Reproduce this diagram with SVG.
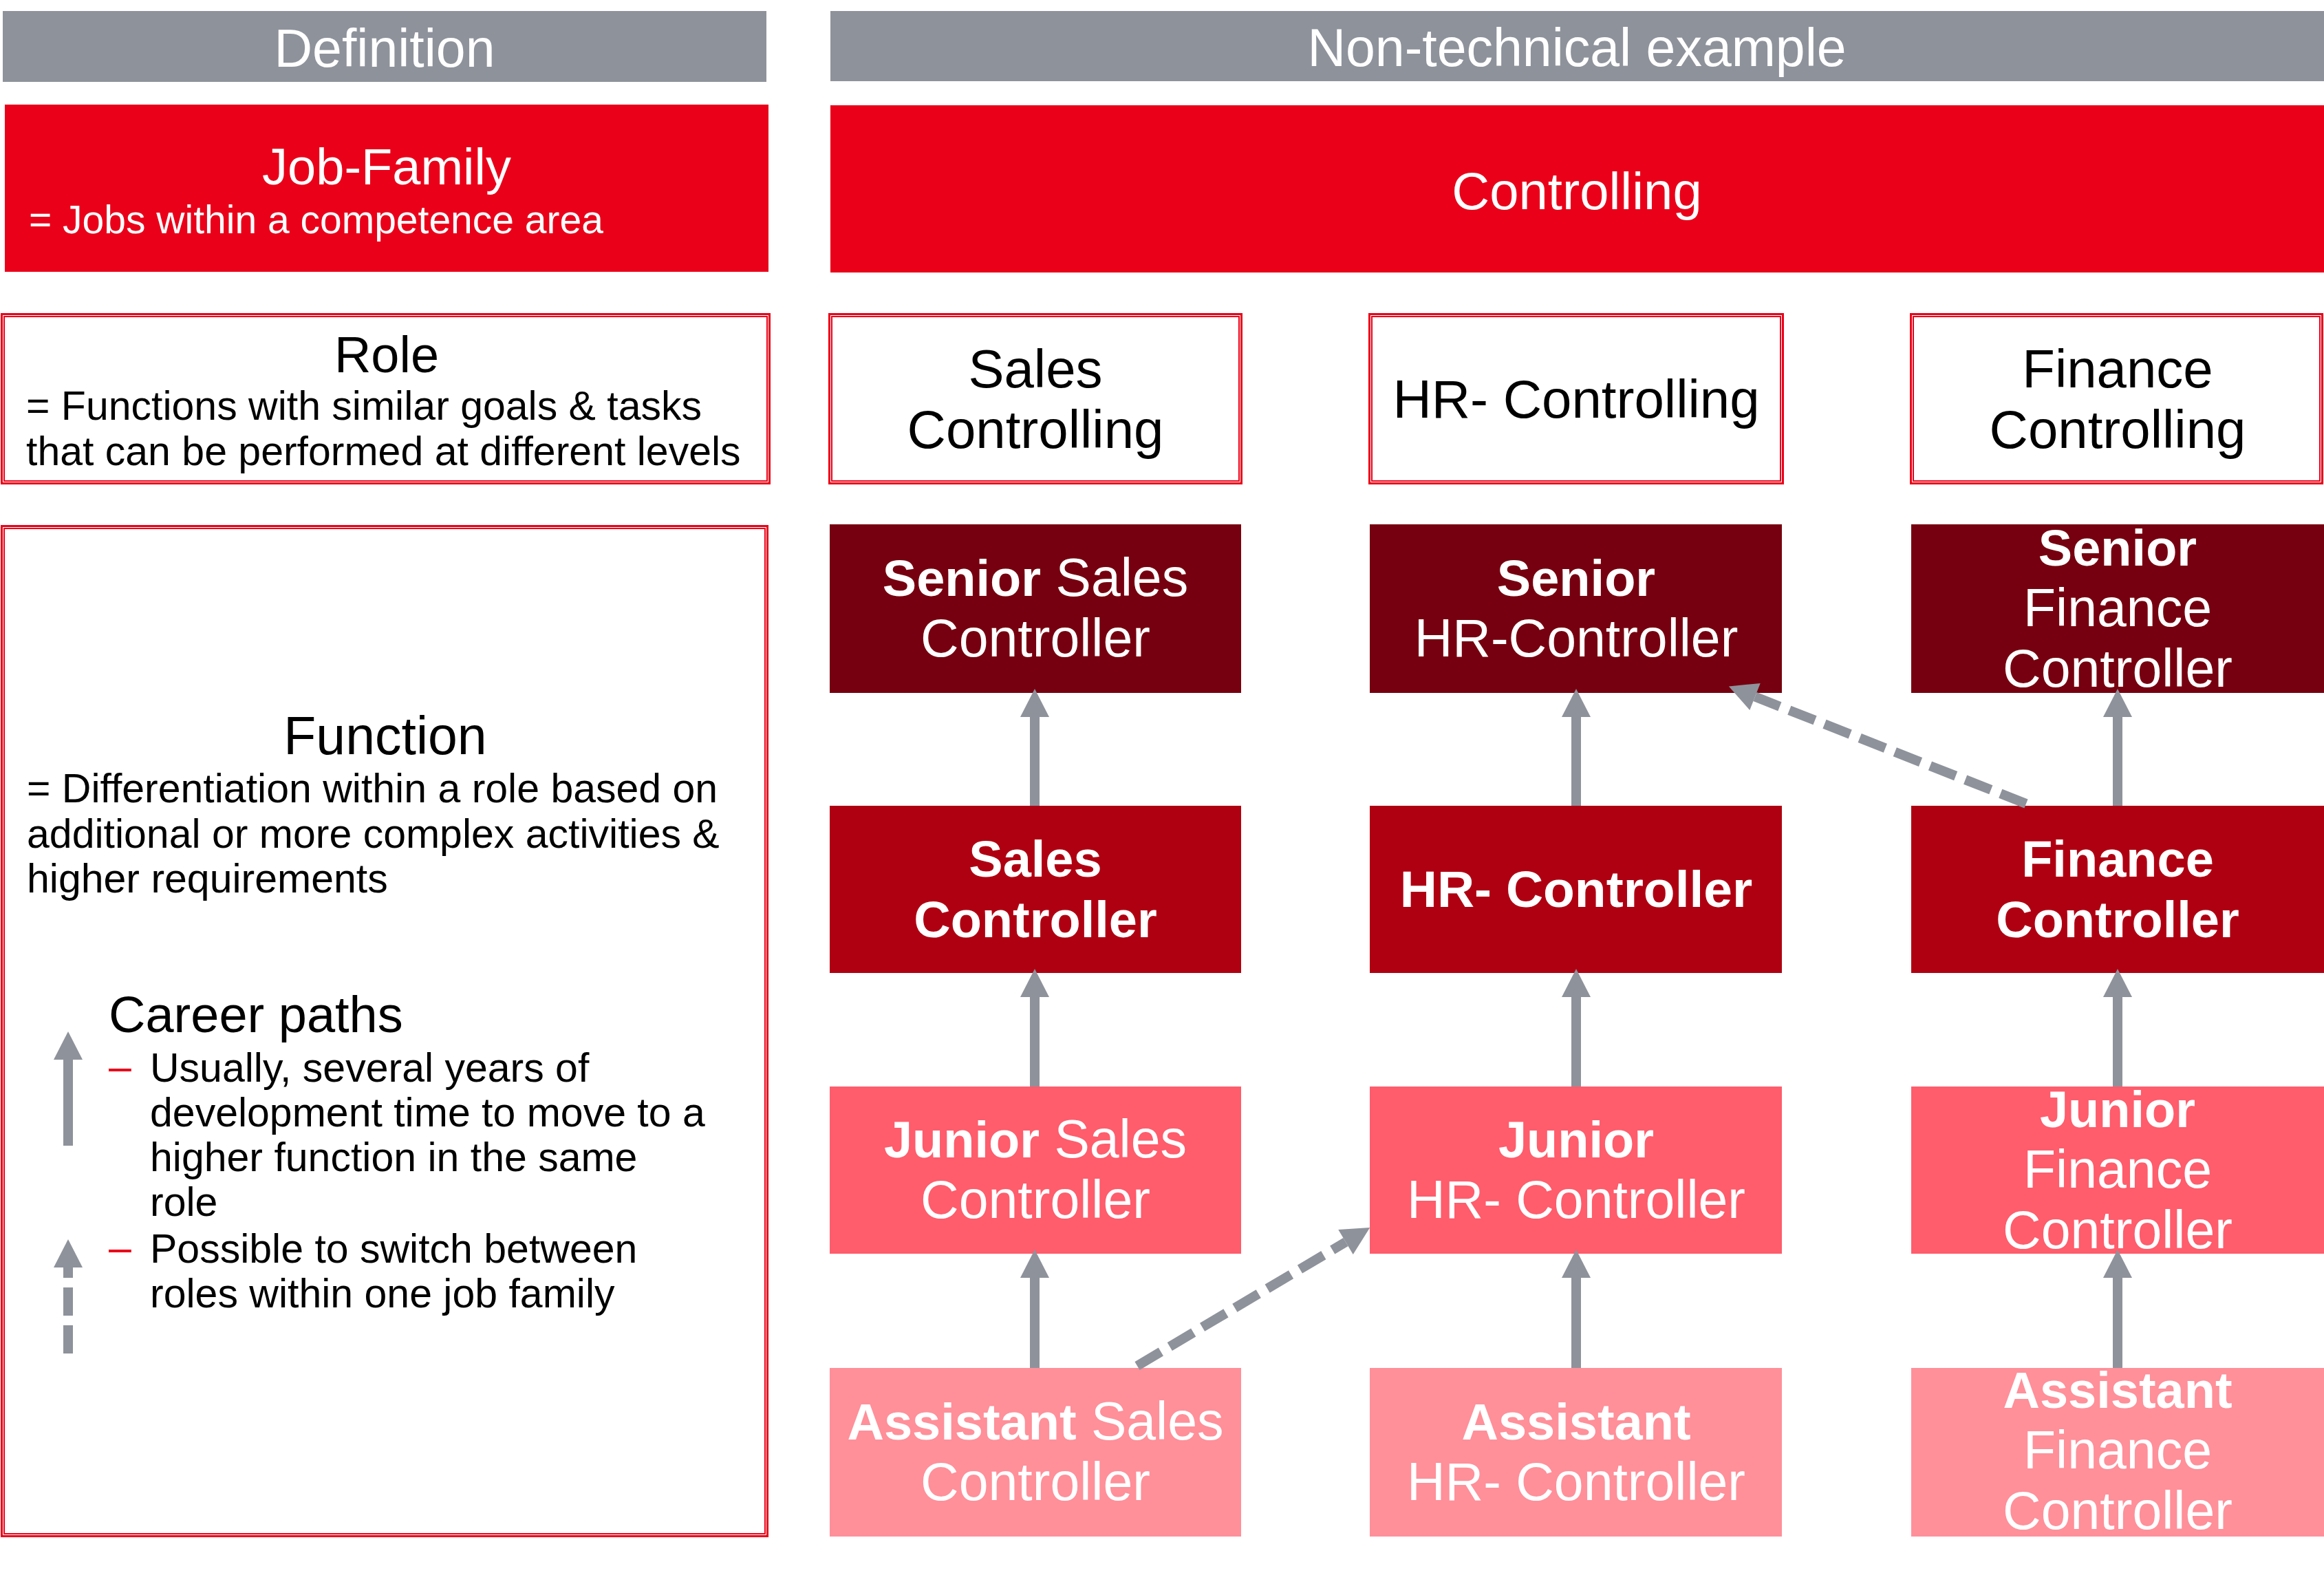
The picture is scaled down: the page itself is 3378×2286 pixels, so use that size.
<svg xmlns="http://www.w3.org/2000/svg" width="3378" height="2286" viewBox="0 0 3378 2286">
<style>
text{font-family:"Liberation Sans",Arial,sans-serif}
.hdr{fill:#8E929B}
.red{fill:#EA0019}
.sen{fill:#76000F}
.ctl{fill:#AF0012}
.jun{fill:#FF5C6C}
.ast{fill:#FF8F99}
.bo{fill:none;stroke:#EA0019;stroke-width:3}
.bi{fill:none;stroke:#EA0019;stroke-width:2}
.wh{fill:#FFFFFF}
.w{fill:#FFFFFF}
.k{fill:#000000}
.big{font-size:77px}
.ttl{font-size:74px}
.body{font-size:59px}
.node{font-size:77px;text-anchor:middle}
.role{font-size:78px;text-anchor:middle}
.b{font-weight:bold;font-size:74px}
.mid{text-anchor:middle}
.dash{fill:#EA0019}
.conn{stroke:#8E929B;stroke-width:14;fill:none}
.dsh{stroke-dasharray:40 15}
</style>
<defs>
<marker id="ah" markerUnits="userSpaceOnUse" markerWidth="44" markerHeight="44" refX="0" refY="22" orient="auto" overflow="visible">
<path d="M0,1 L41,22 L0,43 z" fill="#8E929B"/>
</marker>
</defs>
<rect width="3378" height="2286" fill="#FFFFFF"/>

<g id="hdr-definition">
<rect class="hdr" x="4" y="16" width="1110" height="103"/>
<text class="w big mid" x="559" y="97">Definition</text>
</g>
<g id="hdr-example">
<rect class="hdr" x="1207" y="16" width="2171" height="102"/>
<text class="w big mid" x="2292" y="96">Non-technical example</text>
</g>

<g id="def-jobfamily">
<rect class="red" x="7" y="152" width="1110" height="243"/>
<text class="w ttl mid" x="562" y="268">Job-Family</text>
<text class="w" x="42" y="339" font-size="57">= Jobs within a competence area</text>
</g>
<g id="ex-controlling">
<rect class="red" x="1207" y="153" width="2171" height="243"/>
<text class="w mid" x="2292" y="304" font-size="76">Controlling</text>
</g>

<g id="def-role">
<rect class="wh" x="1" y="455" width="1119" height="249"/>
<rect class="bo" x="2.5" y="456.5" width="1116" height="246"/>
<rect class="bi" x="6" y="460" width="1109" height="239"/>
<text class="k ttl mid" x="562" y="541">Role</text>
<text class="k body" x="38" y="610">= Functions with similar goals &amp; tasks</text>
<text class="k body" x="38" y="676">that can be performed at different levels</text>
</g>

<g id="def-function">
<rect class="bo" x="2.5" y="764.5" width="1113" height="1468"/>
<rect class="bi" x="6" y="768" width="1106" height="1461"/>
<text class="k mid" x="560" y="1096" font-size="77">Function</text>
<text class="k body" x="39" y="1166">= Differentiation within a role based on</text>
<text class="k body" x="39" y="1232">additional or more complex activities &amp;</text>
<text class="k body" x="39" y="1297">higher requirements</text>
<text class="k ttl" x="158" y="1500">Career paths</text>
<text class="dash body" x="158" y="1570">–</text>
<text class="k body" x="218" y="1572">Usually, several years of</text>
<text class="k body" x="218" y="1637">development time to move to a</text>
<text class="k body" x="218" y="1702">higher function in the same</text>
<text class="k body" x="218" y="1767">role</text>
<text class="dash body" x="158" y="1833">–</text>
<text class="k body" x="218" y="1835">Possible to switch between</text>
<text class="k body" x="218" y="1900">roles within one job family</text>
</g>

<g id="role-sales">
<rect class="bo" x="1205.5" y="456.5" width="599" height="246"/>
<rect class="bi" x="1209" y="460" width="592" height="239"/>
<text class="k role" x="1505" y="563">Sales</text>
<text class="k role" x="1505" y="651">Controlling</text>
</g>
<g id="role-hr">
<rect class="bo" x="1990.5" y="456.5" width="601" height="246"/>
<rect class="bi" x="1994" y="460" width="594" height="239"/>
<text class="k role" x="2291" y="607">HR- Controlling</text>
</g>
<g id="role-finance">
<rect class="bo" x="2777.5" y="456.5" width="598" height="246"/>
<rect class="bi" x="2781" y="460" width="591" height="239"/>
<text class="k role" x="3078" y="563">Finance</text>
<text class="k role" x="3078" y="651">Controlling</text>
</g>

<g id="senior-sales">
<rect class="sen" x="1206" y="762" width="598" height="245"/>
<text class="w node" x="1505" y="866"><tspan class="b">Senior</tspan> Sales</text>
<text class="w node" x="1505" y="954">Controller</text>
</g>
<g id="senior-hr">
<rect class="sen" x="1991" y="762" width="599" height="245"/>
<text class="w node b" x="2291" y="866">Senior</text>
<text class="w node" x="2291" y="954">HR-Controller</text>
</g>
<g id="senior-finance">
<rect class="sen" x="2778" y="762" width="600" height="245"/>
<text class="w node b" x="3078" y="822">Senior</text>
<text class="w node" x="3078" y="910">Finance</text>
<text class="w node" x="3078" y="998">Controller</text>
</g>

<g id="ctl-sales">
<rect class="ctl" x="1206" y="1171" width="598" height="243"/>
<text class="w node b" x="1505" y="1274">Sales</text>
<text class="w node b" x="1505" y="1362">Controller</text>
</g>
<g id="ctl-hr">
<rect class="ctl" x="1991" y="1171" width="599" height="243"/>
<text class="w node b" x="2291" y="1318" style="font-size:75px">HR- Controller</text>
</g>
<g id="ctl-finance">
<rect class="ctl" x="2778" y="1171" width="600" height="243"/>
<text class="w node b" x="3078" y="1274">Finance</text>
<text class="w node b" x="3078" y="1362">Controller</text>
</g>

<g id="jun-sales">
<rect class="jun" x="1206" y="1579" width="598" height="243"/>
<text class="w node" x="1505" y="1682"><tspan class="b">Junior</tspan> Sales</text>
<text class="w node" x="1505" y="1770">Controller</text>
</g>
<g id="jun-hr">
<rect class="jun" x="1991" y="1579" width="599" height="243"/>
<text class="w node b" x="2291" y="1682">Junior</text>
<text class="w node" x="2291" y="1770">HR- Controller</text>
</g>
<g id="jun-finance">
<rect class="jun" x="2778" y="1579" width="600" height="243"/>
<text class="w node b" x="3078" y="1638">Junior</text>
<text class="w node" x="3078" y="1726">Finance</text>
<text class="w node" x="3078" y="1814">Controller</text>
</g>

<g id="ast-sales">
<rect class="ast" x="1206" y="1988" width="598" height="245"/>
<text class="w node" x="1505" y="2092"><tspan class="b">Assistant</tspan> Sales</text>
<text class="w node" x="1505" y="2180">Controller</text>
</g>
<g id="ast-hr">
<rect class="ast" x="1991" y="1988" width="599" height="245"/>
<text class="w node b" x="2291" y="2092">Assistant</text>
<text class="w node" x="2291" y="2180">HR- Controller</text>
</g>
<g id="ast-finance">
<rect class="ast" x="2778" y="1988" width="600" height="245"/>
<text class="w node b" x="3078" y="2046">Assistant</text>
<text class="w node" x="3078" y="2134">Finance</text>
<text class="w node" x="3078" y="2222">Controller</text>
</g>

<g id="connectors">
<line class="conn" x1="1504" y1="1171" x2="1504" y2="1042" marker-end="url(#ah)"/>
<line class="conn" x1="1504" y1="1579" x2="1504" y2="1449" marker-end="url(#ah)"/>
<line class="conn" x1="1504" y1="1988" x2="1504" y2="1857" marker-end="url(#ah)"/>
<line class="conn" x1="2291" y1="1171" x2="2291" y2="1042" marker-end="url(#ah)"/>
<line class="conn" x1="2291" y1="1579" x2="2291" y2="1449" marker-end="url(#ah)"/>
<line class="conn" x1="2291" y1="1988" x2="2291" y2="1857" marker-end="url(#ah)"/>
<line class="conn" x1="3078" y1="1171" x2="3078" y2="1042" marker-end="url(#ah)"/>
<line class="conn" x1="3078" y1="1579" x2="3078" y2="1449" marker-end="url(#ah)"/>
<line class="conn" x1="3078" y1="1988" x2="3078" y2="1857" marker-end="url(#ah)"/>
<line class="conn dsh" x1="2945" y1="1168" x2="2551" y2="1012.5" marker-end="url(#ah)"/>
<line class="conn dsh" x1="1653" y1="1985" x2="1956" y2="1805" marker-end="url(#ah)"/>
<line class="conn" x1="99" y1="1665" x2="99" y2="1540" marker-end="url(#ah)"/>
<line class="conn" x1="99" y1="1967" x2="99" y2="1842" stroke-dasharray="41 14" marker-end="url(#ah)"/>
</g>
</svg>
